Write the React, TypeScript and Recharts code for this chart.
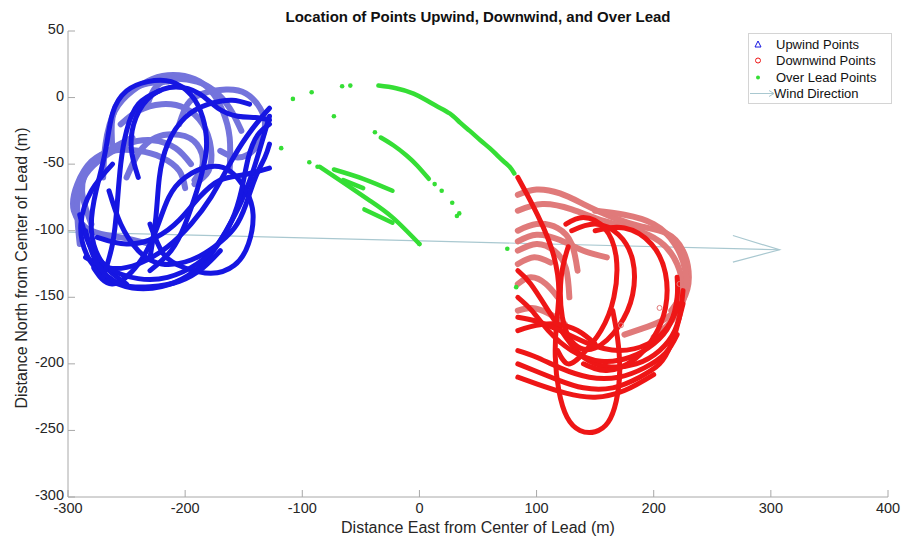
import React from "react";
import { ScatterChart, Scatter, XAxis, YAxis } from "recharts";

// ---- data (metres) ----
const xTicks = [-300, -200, -100, 0, 100, 200, 300, 400];
const yTicks = [-300, -250, -200, -150, -100, -50, 0, 50];

// upwind (blue) tracks: light = sparse marker bands, dark = dense bands
const upLight: number[][][] = [
  [[-270, -60], [-268, -35], [-260, -10], [-245, 5], [-228, 14], [-210, 17], [-192, 14], [-178, 5], [-168, -10], [-162, -30], [-162, -55]],
  [[-205, -20], [-198, -5], [-185, 3], [-165, 6], [-148, 3], [-136, -8], [-132, -22], [-140, -38], [-155, -45], [-170, -40]],
  [[-230, -110], [-255, -105], [-280, -100], [-295, -85], [-292, -65], [-280, -48], [-262, -40], [-240, -40], [-220, -45], [-205, -55], [-200, -68]],
  [[-290, -110], [-292, -80], [-285, -58], [-270, -45], [-250, -35], [-228, -32], [-208, -38], [-195, -50]],
  [[-255, -20], [-240, -10], [-220, -5], [-200, -8], [-185, -20], [-178, -38], [-180, -55], [-192, -65]],
  [[-250, -60], [-240, -42], [-225, -30], [-205, -28], [-190, -35], [-185, -50], [-192, -62]],
  [[-232, -5], [-225, 8], [-210, 14], [-190, 12], [-175, 5], [-162, -8], [-152, -25]],
  [[-280, -95], [-288, -70], [-280, -50], [-262, -38], [-245, -30]],
  [[-262, -40], [-262, -15], [-252, 2], [-235, 10], [-215, 12]],
];
const upDark: number[][][] = [
  [[-262, -50], [-280, -70], [-289, -95], [-284, -118], [-268, -135], [-245, -143], [-220, -142], [-198, -134], [-180, -120], [-165, -100], [-152, -78], [-142, -55], [-135, -35], [-128, -14]],
  [[-230, -95], [-218, -118], [-200, -128], [-178, -132], [-158, -126], [-146, -110], [-142, -88], [-148, -70], [-162, -55], [-180, -52], [-200, -60], [-214, -75], [-225, -100], [-240, -125], [-262, -140], [-278, -128]],
  [[-250, -140], [-270, -125], [-280, -100], [-276, -70], [-268, -40], [-262, -12], [-250, 5], [-232, 12], [-212, 12], [-195, 2], [-185, -15], [-182, -40], [-190, -70], [-200, -95], [-212, -115], [-230, -130]],
  [[-285, -120], [-265, -128], [-240, -125], [-215, -112], [-195, -95], [-178, -75], [-162, -50], [-148, -30], [-135, -15], [-128, -8]],
  [[-275, -105], [-250, -110], [-225, -105], [-205, -92], [-188, -75], [-170, -62], [-150, -58], [-128, -53]],
  [[-240, -60], [-246, -38], [-242, -15], [-228, 2], [-208, 8], [-188, 3], [-172, -8], [-155, -14], [-140, -15], [-128, -17]],
  [[-290, -88], [-282, -110], [-265, -128], [-240, -136], [-215, -135], [-190, -125], [-172, -110], [-160, -92], [-152, -70], [-146, -45], [-138, -28], [-128, -20]],
  [[-270, -135], [-262, -110], [-258, -80], [-255, -50], [-250, -25], [-240, -5], [-222, 5]],
  [[-285, -100], [-275, -125], [-255, -140], [-230, -142], [-205, -138], [-185, -128], [-170, -115]],
  [[-265, -70], [-255, -95], [-240, -115], [-220, -125], [-195, -122], [-175, -112], [-158, -98], [-148, -80], [-140, -60], [-132, -45], [-128, -35]],
  [[-230, -120], [-225, -90], [-222, -60], [-215, -35], [-200, -15], [-180, -5], [-160, -2], [-145, -5]],
];

// downwind (red) tracks
const downLight: number[][][] = [
  [[84, -73], [100, -69], [120, -72], [140, -80], [165, -90], [190, -97], [211, -102], [225, -115], [230, -135], [225, -152], [212, -165], [195, -172], [175, -178]],
  [[84, -85], [105, -80], [130, -84], [155, -92], [180, -98], [205, -108], [220, -125], [224, -145], [215, -160]],
  [[84, -100], [100, -95], [118, -98], [130, -110], [135, -130]],
  [[84, -115], [100, -110], [115, -115], [125, -128], [128, -150]],
  [[150, -85], [175, -88], [200, -95], [218, -110], [227, -130], [226, -150], [215, -168], [200, -180]],
  [[84, -140], [95, -135], [108, -140], [118, -150]],
  [[84, -125], [98, -120], [112, -124]],
  [[84, -160], [96, -158], [110, -162], [124, -170]],
  [[84, -108], [100, -103], [120, -107], [140, -115], [160, -120]],
];
const downDark: number[][][] = [
  [[84, -60], [95, -78], [106, -98], [115, -120], [119, -145], [117, -170], [116, -195], [119, -220], [126, -240], [137, -250], [150, -251], [161, -244], [168, -228], [171, -205], [169, -180], [165, -160]],
  [[84, -130], [95, -140], [110, -160], [125, -180], [140, -195], [160, -202], [185, -200], [205, -190], [218, -175], [225, -155]],
  [[84, -190], [100, -195], [120, -203], [145, -210], [170, -210], [192, -203], [210, -192], [220, -178]],
  [[84, -175], [95, -172], [115, -170], [135, -175], [150, -185]],
  [[130, -100], [150, -95], [170, -103], [182, -122], [182, -148], [170, -172], [150, -188], [132, -185], [122, -165], [121, -135], [127, -112]],
  [[150, -100], [175, -98], [198, -110], [210, -132], [210, -158], [200, -180], [183, -197], [160, -205], [140, -200]],
  [[84, -200], [98, -205], [118, -212], [140, -218], [165, -218], [188, -210], [205, -200], [215, -185], [222, -165], [225, -145]],
  [[84, -150], [96, -160], [110, -175], [130, -190], [155, -198], [180, -195], [200, -185], [214, -170], [220, -150], [220, -135]],
  [[84, -165], [100, -168], [120, -175], [145, -185], [170, -190], [195, -185], [212, -172], [222, -155]],
  [[125, -95], [140, -90], [158, -98], [168, -120], [166, -150], [155, -175], [140, -192], [127, -200], [118, -190]],
  [[84, -210], [100, -215], [125, -222], [150, -225], [175, -220], [200, -208]],
];
const downStray = [[172, -171], [222, -140], [205, -158]];

// over-lead (green): tracks and single points
const leadTracks: number[][][] = [
  [[-35, 9], [-20, 7], [-5, 3], [6, -2], [16, -7], [26, -12], [35, -19], [43, -25], [52, -32], [60, -38], [66, -43], [72, -48], [77, -52], [81, -57]],
  [[-33, -30], [-22, -36], [-11, -43.5], [-2, -51], [8, -61]],
  [[-85, -52], [-63, -65], [-43, -77], [-23, -90], [0, -110]],
  [[-73, -54], [-48, -61], [-23, -70]],
  [[-65, -62], [-48, -68]],
  [[-47, -84], [-23, -94]],
];
const leadDots = [[-108, -1], [-92, 4], [-66, 8.5], [-59, 9], [-73, -14], [-118, -38], [-94, -48.6], [-87, -52], [-38, -26], [13, -65], [19, -70], [28, -79], [34, -87], [32, -89], [75, -113.6], [82.6, -142.4], [0, -110]];

// wind direction arrow
const windLine = [[-300, -101], [307.4, -114.3]];
const windHead = [[267.6, -103.6], [307.4, -114.3], [267.6, -123.6]];

const toPts = (a: number[][]) => a.map(([x, y]) => ({ x, y }));

const FONT = "'Liberation Sans', Arial, Helvetica, sans-serif";
const BLUE = "#1616e2";
const BLUE_LT = "#7474dc";
const RED = "#ee1616";
const RED_LT = "#e07a7a";
const GREEN = "#35de35";
const WIND = "#a9c8d0";
const AXIS = "#a8a8a8";

const noShape = () => <g />;
const dotShape = (p: any) => <circle cx={p.cx} cy={p.cy} r={2.3} fill={GREEN} />;
const ringShape = (p: any) => <circle cx={p.cx} cy={p.cy} r={2.5} fill="none" stroke={RED_LT} strokeWidth={1} />;

// plot box in page pixels
const PL = 68;
const PT = 31;
const PR = 888;
const PB = 497;

function XTick(props: any) {
  const { x, payload } = props;
  return (
    <g>
      <line x1={x} y1={PB} x2={x} y2={PB - 7} stroke={AXIS} />
      <text x={x} y={PB + 16} textAnchor="middle" fontSize={14.5} fontFamily={FONT} fill="#262626">
        {payload.value}
      </text>
    </g>
  );
}

function YTick(props: any) {
  const { y, payload } = props;
  return (
    <g>
      <line x1={PL} y1={y} x2={PL + 7} y2={y} stroke={AXIS} />
      <text x={PL - 4} y={y + 3} textAnchor="end" fontSize={14.5} fontFamily={FONT} fill="#262626">
        {payload.value}
      </text>
    </g>
  );
}

function band(tracks: number[][][], color: string, width: number, key: string) {
  return tracks.map((t, i) => (
    <Scatter
      key={key + i}
      data={toPts(t)}
      line={{ stroke: color, strokeWidth: width, strokeLinecap: "round" }}
      lineJointType="natural"
      shape={noShape}
      isAnimationActive={false}
    />
  ));
}

function LegendBox() {
  const rows = [
    { label: "Upwind Points", icon: <polygon points="8,3 11,9 5,9" fill="none" stroke={BLUE} strokeWidth={1} /> },
    { label: "Downwind Points", icon: <circle cx={8} cy={6.5} r={2.5} fill="none" stroke={RED} strokeWidth={1} /> },
    { label: "Over Lead Points", icon: <circle cx={8} cy={6.5} r={2} fill={GREEN} /> },
    {
      label: "Wind Direction",
      icon: (
        <g stroke={WIND} strokeWidth={1} fill="none">
          <line x1={0} y1={6.5} x2={24} y2={6.5} />
          <polyline points="19,3.5 24,6.5 19,9.5" />
        </g>
      ),
    },
  ];
  return (
    <div
      style={{
        position: "absolute",
        left: 748,
        top: 33,
        width: 144,
        height: 71,
        background: "#fff",
        border: "1px solid #d4d4d4",
        boxSizing: "border-box",
        fontFamily: FONT,
        fontSize: 13,
        color: "#111",
        paddingTop: 2,
      }}
    >
      {rows.map((r) => (
        <div key={r.label} style={{ display: "flex", alignItems: "center", height: 16.5 }}>
          <svg width={26} height={13} style={{ marginLeft: 1 }}>
            {r.icon}
          </svg>
          <span style={{ marginLeft: r.label === "Wind Direction" ? -2 : 0 }}>{r.label}</span>
        </div>
      ))}
    </div>
  );
}

export default function App() {
  return (
    <div style={{ position: "absolute", left: 0, top: 0, width: 909, height: 540, background: "#fff" }}>
      <ScatterChart width={909} height={540} margin={{ top: PT, right: 909 - PR, bottom: 13, left: 28 }}>
        <XAxis
          type="number"
          dataKey="x"
          domain={[-300, 400]}
          ticks={xTicks}
          allowDataOverflow
          height={30}
          tickSize={0}
          tickMargin={0}
          tick={<XTick />}
          stroke={AXIS}
        />
        <YAxis
          type="number"
          dataKey="y"
          domain={[-300, 50]}
          ticks={yTicks}
          allowDataOverflow
          width={40}
          tickSize={0}
          tickMargin={0}
          tick={<YTick />}
          stroke={AXIS}
        />
        <Scatter
          data={toPts(windLine)}
          line={{ stroke: WIND, strokeWidth: 1.2 }}
          shape={noShape}
          isAnimationActive={false}
        />
        {band(upLight, BLUE_LT, 6, "ul")}
        {band(upDark, BLUE, 5, "ud")}
        {band(downLight, RED_LT, 6, "dl")}
        {band(downDark, RED, 5, "dd")}
        <Scatter data={toPts(downStray)} shape={ringShape} isAnimationActive={false} />
        {band(leadTracks, GREEN, 4.5, "gt")}
        <Scatter data={toPts(leadDots)} shape={dotShape} isAnimationActive={false} />
        <Scatter
          data={toPts(windHead)}
          line={{ stroke: WIND, strokeWidth: 1.2 }}
          shape={noShape}
          isAnimationActive={false}
        />
      </ScatterChart>
      <div
        style={{
          position: "absolute",
          left: PL,
          width: PR - PL,
          top: 8,
          textAlign: "center",
          fontFamily: FONT,
          fontWeight: "bold",
          fontSize: 15,
          color: "#111",
        }}
      >
        Location of Points Upwind, Downwind, and Over Lead
      </div>
      <div
        style={{
          position: "absolute",
          left: PL,
          width: PR - PL,
          top: 519,
          textAlign: "center",
          fontFamily: FONT,
          fontSize: 16,
          color: "#262626",
        }}
      >
        Distance East from Center of Lead (m)
      </div>
      <div
        style={{
          position: "absolute",
          left: 22,
          top: 268,
          transform: "translate(-50%, -50%) rotate(-90deg)",
          whiteSpace: "nowrap",
          fontFamily: FONT,
          fontSize: 16,
          color: "#262626",
        }}
      >
        Distance North from Center of Lead (m)
      </div>
      <LegendBox />
    </div>
  );
}
